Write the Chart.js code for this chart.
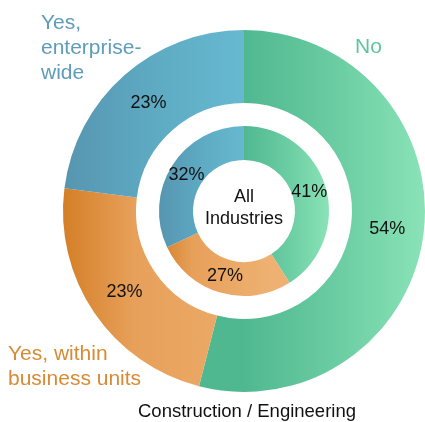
<!DOCTYPE html>
<html>
<head>
<meta charset="utf-8">
<script src="https://cdn.jsdelivr.net/npm/chart.js@4.4.0/dist/chart.umd.min.js"></script>
<style>
    body { margin: 0; background: #fff; }
    #wrap { width: 425px; height: 422px; }
</style>
</head>
<body>
<div id="wrap"><canvas id="ringChart" width="425" height="422"></canvas></div>
<script>
// Survey answers (outer ring = Construction / Engineering, inner ring = All Industries)
const categories = ['No', 'Yes, within business units', 'Yes, enterprise-wide'];
const outerValues = [54, 23, 23];
const innerValues = [41, 27, 32];
const outerTitle = 'Construction / Engineering';
const innerTitle = ['All', 'Industries'];

// dark -> mid -> light colour stops for each answer
const shades = [
    ['#50b890', '#6acca2', '#8ae3b7'],
    ['#d47f27', '#e7a05a', '#eeb171'],
    ['#5795b0', '#5eaac3', '#66b9d0']
];
const labelColors = ['#5fc59c', '#d98a34', '#5f9cb9'];

function segmentFill(ctx, ring) {
    const chart = ctx.chart;
    const area = chart.chartArea;
    if (!area) return shades[ctx.dataIndex][1];
    const cx = (area.left + area.right) / 2;
    const r = Math.min(area.width, area.height) / 2;
    const reach = ring === 'outer' ? r : r * 0.47;
    let x0, x1;
    if (ctx.dataIndex === 0) { x0 = cx; x1 = cx + reach; }
    else if (ctx.dataIndex === 1) { x0 = cx - reach; x1 = cx + reach * 0.3; }
    else { x0 = cx - reach; x1 = cx; }
    const g = chart.ctx.createLinearGradient(x0, 0, x1, 0);
    const s = shades[ctx.dataIndex];
    g.addColorStop(0, s[0]);
    g.addColorStop(ctx.dataIndex === 1 ? 0.3 : 0.5, s[1]);
    g.addColorStop(1, s[2]);
    return g;
}

// draws percentages, answer names and ring titles
const textPlugin = {
    id: 'ringText',
    afterDraw(chart) {
        const c = chart.ctx;
        const area = chart.chartArea;
        const cx = (area.left + area.right) / 2;
        const cy = (area.top + area.bottom) / 2;
        c.save();
        c.textAlign = 'center';
        c.textBaseline = 'middle';
        c.fillStyle = '#111';
        c.font = '18px "Liberation Sans", Arial, sans-serif';
        [0, 2].forEach(di => {
            const values = di === 0 ? outerValues : innerValues;
            chart.getDatasetMeta(di).data.forEach((arc, i) => {
                const p = arc.tooltipPosition();
                c.fillText(values[i] + '%', p.x, p.y);
            });
        });

        // centre title
        c.font = '18px "Liberation Sans", Arial, sans-serif';
        c.textBaseline = 'alphabetic';
        c.fillText(innerTitle[0], cx, cy - 9);
        c.fillText(innerTitle[1], cx, cy + 13);

        // bottom title
        c.font = '18.5px "Liberation Sans", Arial, sans-serif';
        c.fillText(outerTitle, cx + 3, area.bottom + 25);

        // answer names
        c.textAlign = 'left';
        c.font = '21px "Liberation Sans", Arial, sans-serif';
        c.fillStyle = labelColors[0];
        c.fillText('No', 355, 53);
        c.fillStyle = labelColors[2];
        ['Yes,', 'enterprise-', 'wide'].forEach((t, i) => c.fillText(t, 41, 29 + i * 25));
        c.fillStyle = labelColors[1];
        ['Yes, within', 'business units'].forEach((t, i) => c.fillText(t, 8, 360 + i * 25));
        c.restore();
    }
};

new Chart(document.getElementById('ringChart'), {
    type: 'doughnut',
    data: {
        labels: categories,
        datasets: [
            {
                label: outerTitle,
                data: outerValues,
                weight: 73,
                backgroundColor: ctx => segmentFill(ctx, 'outer')
            },
            {
                // empty gap between the two rings
                label: 'gap',
                data: [1],
                weight: 23,
                backgroundColor: 'rgba(0,0,0,0)'
            },
            {
                label: innerTitle.join(' '),
                data: innerValues,
                weight: 34,
                backgroundColor: ctx => segmentFill(ctx, 'inner')
            }
        ]
    },
    options: {
        responsive: false,
        animation: false,
        cutout: 51,
        borderWidth: 0,
        hoverOffset: 0,
        offset: 0,
        layout: { padding: { left: 63, top: 30, right: 0, bottom: 30 } },
        plugins: {
            legend: { display: false },
            tooltip: { enabled: false }
        },
        events: []
    },
    plugins: [textPlugin]
});
</script>
</body>
</html>
